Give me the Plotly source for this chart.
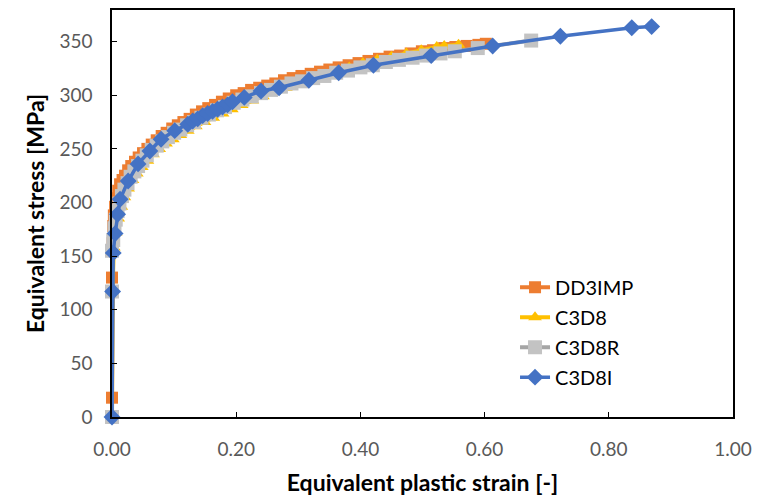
import plotly.graph_objects as go

# Equivalent plastic strain [-] and equivalent stress [MPa] for each element type
dd3imp_strain = [0, 0, 0, 0.001, 0.002, 0.003, 0.005, 0.007, 0.010, 0.013, 0.017, 0.021,
                 0.026, 0.031, 0.037, 0.043, 0.050, 0.057, 0.064, 0.072, 0.080, 0.088,
                 0.097, 0.106, 0.115, 0.125, 0.135, 0.145, 0.155, 0.166, 0.177, 0.188,
                 0.200, 0.212, 0.224, 0.237, 0.250, 0.263, 0.277, 0.291, 0.305, 0.320,
                 0.335, 0.350, 0.365, 0.381, 0.397, 0.413, 0.430, 0.447, 0.464, 0.481,
                 0.499, 0.517, 0.535, 0.553, 0.571, 0.590, 0.602]
dd3imp_stress = [0, 18, 130, 162, 178, 188, 196, 204, 211, 217, 221, 225,
                 230, 234, 238, 242, 246, 250, 254, 258, 262, 265,
                 269, 272, 275, 278, 282, 285, 288, 291, 294, 297,
                 300, 302, 305, 307, 309, 311, 314, 316, 318, 320,
                 322, 324, 326, 328, 330, 332, 334, 336, 337, 339,
                 341, 342, 344, 345, 346, 347, 348]

c3d8_strain = [0, 0.001, 0.003, 0.006, 0.010, 0.015, 0.020, 0.026, 0.033, 0.040, 0.048,
               0.057, 0.066, 0.076, 0.087, 0.098, 0.110, 0.122, 0.135, 0.149, 0.163,
               0.178, 0.193, 0.209, 0.226, 0.243, 0.261, 0.280, 0.299, 0.319, 0.339,
               0.360, 0.382, 0.404, 0.427, 0.450, 0.474, 0.498, 0.523, 0.535, 0.558]
c3d8_stress = [0, 120, 158, 172, 185, 196, 205, 213, 221, 227, 233,
               239, 245, 250, 255, 259, 263, 267, 271, 275, 279,
               283, 287, 291, 295, 299, 303, 307, 311, 315, 318,
               322, 326, 330, 333, 336, 339, 342, 345, 346, 347]

c3d8r_strain = [0, 0, 0, 0.002, 0.004, 0.006, 0.009, 0.012, 0.016, 0.020, 0.025, 0.030,
                0.036, 0.042, 0.049, 0.056, 0.064, 0.072, 0.081, 0.090, 0.100, 0.110,
                0.121, 0.132, 0.144, 0.156, 0.169, 0.182, 0.196, 0.210, 0.225, 0.240,
                0.256, 0.272, 0.289, 0.306, 0.324, 0.342, 0.361, 0.380, 0.400, 0.420,
                0.441, 0.462, 0.484, 0.506, 0.529, 0.552, 0.589, 0.675]
c3d8r_stress = [0, 117, 155, 165, 176, 184, 192, 199, 206, 212, 218, 224,
                229, 234, 239, 244, 249, 253, 257, 261, 265, 268,
                272, 275, 279, 282, 286, 289, 293, 296, 299, 302,
                305, 308, 311, 313, 316, 318, 321, 323, 326, 328,
                331, 333, 335, 337, 339, 341, 344, 351]

c3d8i_strain = [0, 0.001, 0.002, 0.005, 0.009, 0.013, 0.026, 0.042, 0.061, 0.079, 0.101,
                0.122, 0.130, 0.138, 0.146, 0.154, 0.162, 0.170, 0.178, 0.186, 0.194,
                0.213, 0.240, 0.269, 0.317, 0.365, 0.421, 0.514, 0.613, 0.722, 0.837,
                0.869]
c3d8i_stress = [0, 117, 153, 171, 189, 203, 220, 236, 248, 259, 267,
                273, 276, 278, 281, 283, 285, 287, 289, 291, 294,
                298, 304, 307, 314, 321, 328, 337, 346, 355, 363,
                364]

x_ticks = [0.0, 0.2, 0.4, 0.6, 0.8, 1.0]
x_tick_labels = ["0.00", "0.20", "0.40", "0.60", "0.80", "1.00"]
y_ticks = [0, 50, 100, 150, 200, 250, 300, 350]

FONT = "Lato"

fig = go.Figure()

series = [
    ("DD3IMP", dd3imp_strain, dd3imp_stress, "#ED7D31", "#ED7D31", "square", 12, 4),
    ("C3D8", c3d8_strain, c3d8_stress, "#FFC000", "#FFC000", "triangle-up", 12, 4),
    ("C3D8R", c3d8r_strain, c3d8r_stress, "#A5A5A5", "#C3C3C3", "square", 14, 4),
    ("C3D8I", c3d8i_strain, c3d8i_stress, "#4472C4", "#4472C4", "diamond", 13, 3.5),
]

for name, xs, ys, line_color, marker_color, symbol, msize, lw in series:
    fig.add_trace(go.Scatter(
        x=xs, y=ys, name=name, legendgroup=name,
        mode="lines+markers",
        line=dict(color=line_color, width=lw),
        marker=dict(color=marker_color, symbol=symbol, size=msize, line=dict(width=0)),
        cliponaxis=False,
    ))

axis_common = dict(
    showline=True, linecolor="black", linewidth=1.5, mirror=True,
    ticks="inside", ticklen=5, tickwidth=1.2, tickcolor="black",
    showgrid=False, zeroline=False,
    tickfont=dict(family=FONT, size=19, color="#595959"),
)

fig.update_xaxes(
    range=[0, 1.0], tickvals=x_ticks, ticktext=x_tick_labels,
    ticklabelstandoff=14,
    title=dict(text="<b>Equivalent plastic strain [-]</b>",
               font=dict(family=FONT, size=23, color="black"), standoff=16),
    **axis_common,
)
fig.update_yaxes(
    range=[0, 379.5], tickvals=y_ticks,
    ticklabelstandoff=14,
    title=dict(text="<b>Equivalent stress [MPa]</b>",
               font=dict(family=FONT, size=23, color="black"), standoff=8),
    **axis_common,
)

fig.update_layout(
    width=760, height=500,
    margin=dict(l=112, r=23, t=8, b=81),
    paper_bgcolor="white", plot_bgcolor="white",
    font=dict(family=FONT),
    legend=dict(
        x=0.649, y=0.367, xanchor="left", yanchor="top",
        font=dict(family=FONT, size=20, color="black"),
        tracegroupgap=1, bgcolor="rgba(0,0,0,0)",
    ),
)

fig.write_html("out.html")
